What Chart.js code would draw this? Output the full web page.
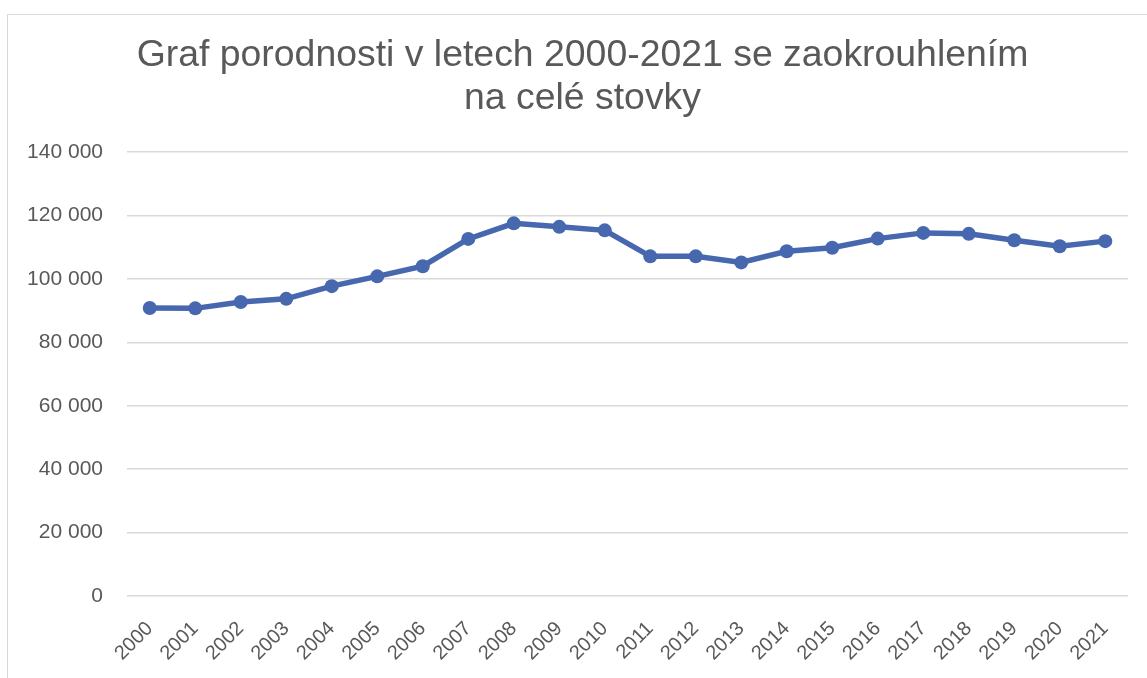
<!DOCTYPE html>
<html>
<head>
<meta charset="utf-8">
<script src="https://cdn.jsdelivr.net/npm/chart.js@4/dist/chart.umd.min.js"></script>
<style>
    html, body { margin: 0; padding: 0; background: #fff; overflow: hidden; }
    body { width: 1147px; height: 678px; position: relative; }
    .frame { position: absolute; left: 7px; top: 14px; width: 1200px; height: 720px; border: 1.5px solid #d9d9d9; box-sizing: border-box; }
    .wrap { position: absolute; left: 0; top: 0; width: 1165px; height: 678px; }
</style>
</head>
<body>
<div class="frame"></div>
<div class="wrap"><canvas id="birthChart"></canvas></div>
<script>
    const years = ['2000', '2001', '2002', '2003', '2004', '2005', '2006', '2007', '2008', '2009', '2010',
                   '2011', '2012', '2013', '2014', '2015', '2016', '2017', '2018', '2019', '2020', '2021'];
    const births = [90800, 90700, 92700, 93700, 97700, 100800, 104000, 112600, 117500, 116400, 115300,
                    107100, 107100, 105200, 108700, 109800, 112700, 114500, 114200, 112200, 110300, 111900];
    const titleLines = ['Graf porodnosti v letech 2000-2021 se zaokrouhlením', 'na celé stovky'];

    const textColor = '#595959';
    const lineColor = '#4767ae';
    const fontFamily = '"Liberation Sans", Arial, sans-serif';

    // 140000 -> "140 000"
    function fmt(v) {
        return String(v).replace(/\B(?=(\d{3})+(?!\d))/g, ' ');
    }

    const ctx = document.getElementById('birthChart').getContext('2d');
    new Chart(ctx, {
        type: 'line',
        data: {
            labels: years,
            datasets: [{
                data: births,
                borderColor: lineColor,
                backgroundColor: lineColor,
                borderWidth: 5.5,
                pointRadius: 7,
                pointBorderWidth: 0,
                pointBackgroundColor: lineColor,
                tension: 0
            }]
        },
        options: {
            responsive: true,
            maintainAspectRatio: false,
            animation: false,
            layout: { padding: { left: 5, right: 5, top: 0, bottom: 10 } },
            plugins: {
                legend: { display: false },
                tooltip: { enabled: false },
                title: {
                    display: true,
                    text: titleLines,
                    color: textColor,
                    font: { family: fontFamily, size: 37.4, weight: 'normal', lineHeight: 1.15 },
                    padding: { top: 34, bottom: 32 }
                }
            },
            scales: {
                x: {
                    offset: true,
                    grid: { display: false, drawTicks: false },
                    border: { display: false },
                    ticks: {
                        color: textColor,
                        font: { family: fontFamily, size: 20 },
                        minRotation: 45,
                        maxRotation: 45,
                        padding: 21,
                        autoSkip: false
                    },
                    afterFit: s => { s.height = 72; }
                },
                y: {
                    min: 0,
                    max: 140000,
                    grid: { color: '#d9d9d9', lineWidth: 1.5, drawTicks: false },
                    border: { display: false },
                    ticks: {
                        stepSize: 20000,
                        color: textColor,
                        font: { family: fontFamily, size: 21 },
                        padding: 24,
                        callback: v => fmt(v)
                    },
                    afterFit: s => { s.width = 122; }
                },
                // empty spacer on the right so the title stays centred like the original
                y2: {
                    position: 'right',
                    grid: { display: false },
                    border: { display: false },
                    ticks: { display: false },
                    afterFit: s => { s.width = 32; }
                }
            }
        }
    });
</script>
</body>
</html>
